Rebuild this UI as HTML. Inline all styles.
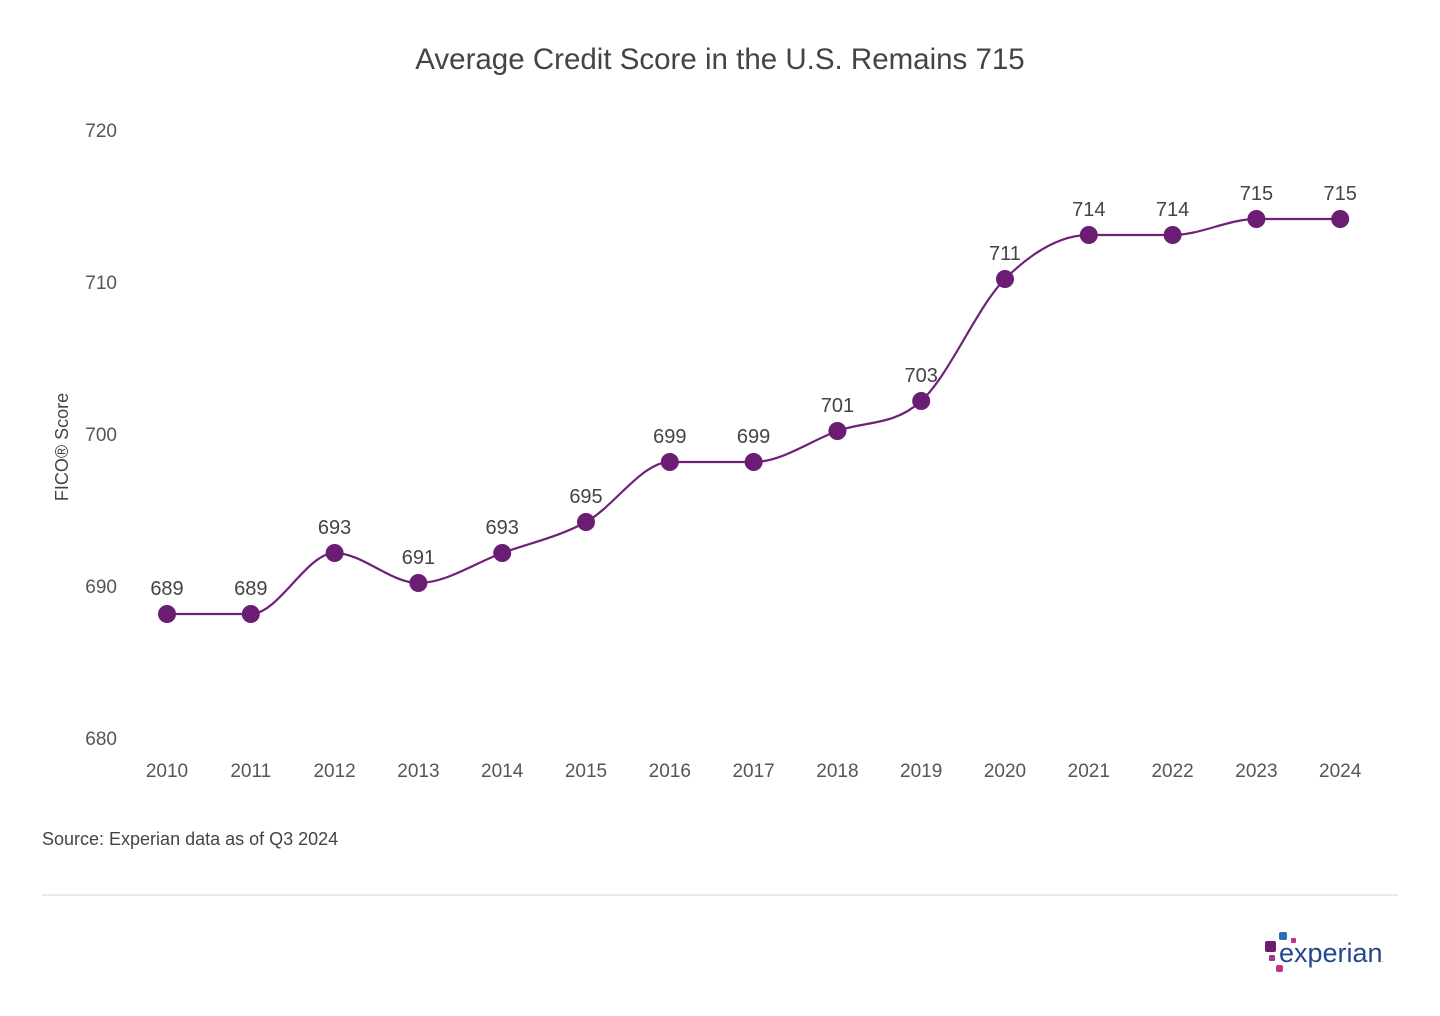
<!DOCTYPE html>
<html><head><meta charset="utf-8"><style>
body{margin:0;background:#fff;width:1440px;height:1011px;overflow:hidden;font-family:"Liberation Sans",sans-serif}
</style></head><body>
<svg width="1440" height="1011" viewBox="0 0 1440 1011" xmlns="http://www.w3.org/2000/svg" font-family="Liberation Sans, sans-serif">
<text x="720" y="69" text-anchor="middle" font-size="29.5" fill="#444">Average Credit Score in the U.S. Remains 715</text>
<g font-size="19" fill="#555" text-anchor="end">
<text x="117" y="137">720</text><text x="117" y="289">710</text><text x="117" y="441">700</text><text x="117" y="593">690</text><text x="117" y="745">680</text>
</g>
<text transform="translate(68,447) rotate(-90)" text-anchor="middle" font-size="18" fill="#444">FICO® Score</text>
<g font-size="19" fill="#555" text-anchor="middle">
<text x="167" y="777">2010</text><text x="250.8" y="777">2011</text><text x="334.6" y="777">2012</text><text x="418.4" y="777">2013</text><text x="502.2" y="777">2014</text><text x="586" y="777">2015</text><text x="669.8" y="777">2016</text><text x="753.6" y="777">2017</text><text x="837.4" y="777">2018</text><text x="921.2" y="777">2019</text><text x="1005" y="777">2020</text><text x="1088.8" y="777">2021</text><text x="1172.6" y="777">2022</text><text x="1256.4" y="777">2023</text><text x="1340.2" y="777">2024</text>
</g>
<path fill="none" stroke="#6e2277" stroke-width="2.2" d="M167,614 C195,614 223,614 250.8,614 C278.7,614 306.7,553 334.6,553 C362.5,553 390.5,583 418.4,583 C446.3,583 474.3,563.2 502.2,553 C530.1,542.8 558.1,537.2 586,522 C613.9,506.8 641.9,462 669.8,462 C697.7,462 725.7,462 753.6,462 C781.5,462 809.5,441.2 837.4,431 C865.3,420.8 893.3,426.3 921.2,401 C949.1,375.7 977.1,306.7 1005,279 C1032.9,251.3 1060.9,235 1088.8,235 L1172.6,235 C1200.5,235 1228.5,219 1256.4,219 L1340.2,219"/>
<g fill="#6b1d73">
<circle cx="167" cy="614" r="9"/><circle cx="250.8" cy="614" r="9"/><circle cx="334.6" cy="553" r="9"/><circle cx="418.4" cy="583" r="9"/><circle cx="502.2" cy="553" r="9"/><circle cx="586" cy="522" r="9"/><circle cx="669.8" cy="462" r="9"/><circle cx="753.6" cy="462" r="9"/><circle cx="837.4" cy="431" r="9"/><circle cx="921.2" cy="401" r="9"/><circle cx="1005" cy="279" r="9"/><circle cx="1088.8" cy="235" r="9"/><circle cx="1172.6" cy="235" r="9"/><circle cx="1256.4" cy="219" r="9"/><circle cx="1340.2" cy="219" r="9"/>
</g>
<g font-size="20" fill="#444" text-anchor="middle">
<text x="167" y="595">689</text><text x="250.8" y="595">689</text><text x="334.6" y="534">693</text><text x="418.4" y="564">691</text><text x="502.2" y="534">693</text><text x="586" y="503">695</text><text x="669.8" y="443">699</text><text x="753.6" y="443">699</text><text x="837.4" y="412">701</text><text x="921.2" y="382">703</text><text x="1005" y="260">711</text><text x="1088.8" y="216">714</text><text x="1172.6" y="216">714</text><text x="1256.4" y="200">715</text><text x="1340.2" y="200">715</text>
</g>
<text x="42" y="845" font-size="18" fill="#444">Source: Experian data as of Q3 2024</text>
<line x1="42" y1="895" x2="1398" y2="895" stroke="#e2e2e2" stroke-width="1.5"/>
<rect x="1279" y="932" width="8" height="8" rx="2" fill="#2f6db5"/>
<rect x="1265" y="941" width="11" height="11" rx="2" fill="#6b1d73"/>
<rect x="1291" y="938" width="5" height="5" rx="1" fill="#c2328a"/>
<rect x="1269" y="955" width="6" height="6" rx="1" fill="#a13a8f"/>
<rect x="1276" y="965" width="7" height="7" rx="2" fill="#c2328a"/>
<text x="1279" y="962" font-size="27" fill="#26478d">experian</text>
<text x="1382" y="962" font-size="6" fill="#26478d">.</text>
</svg>
</body></html>
